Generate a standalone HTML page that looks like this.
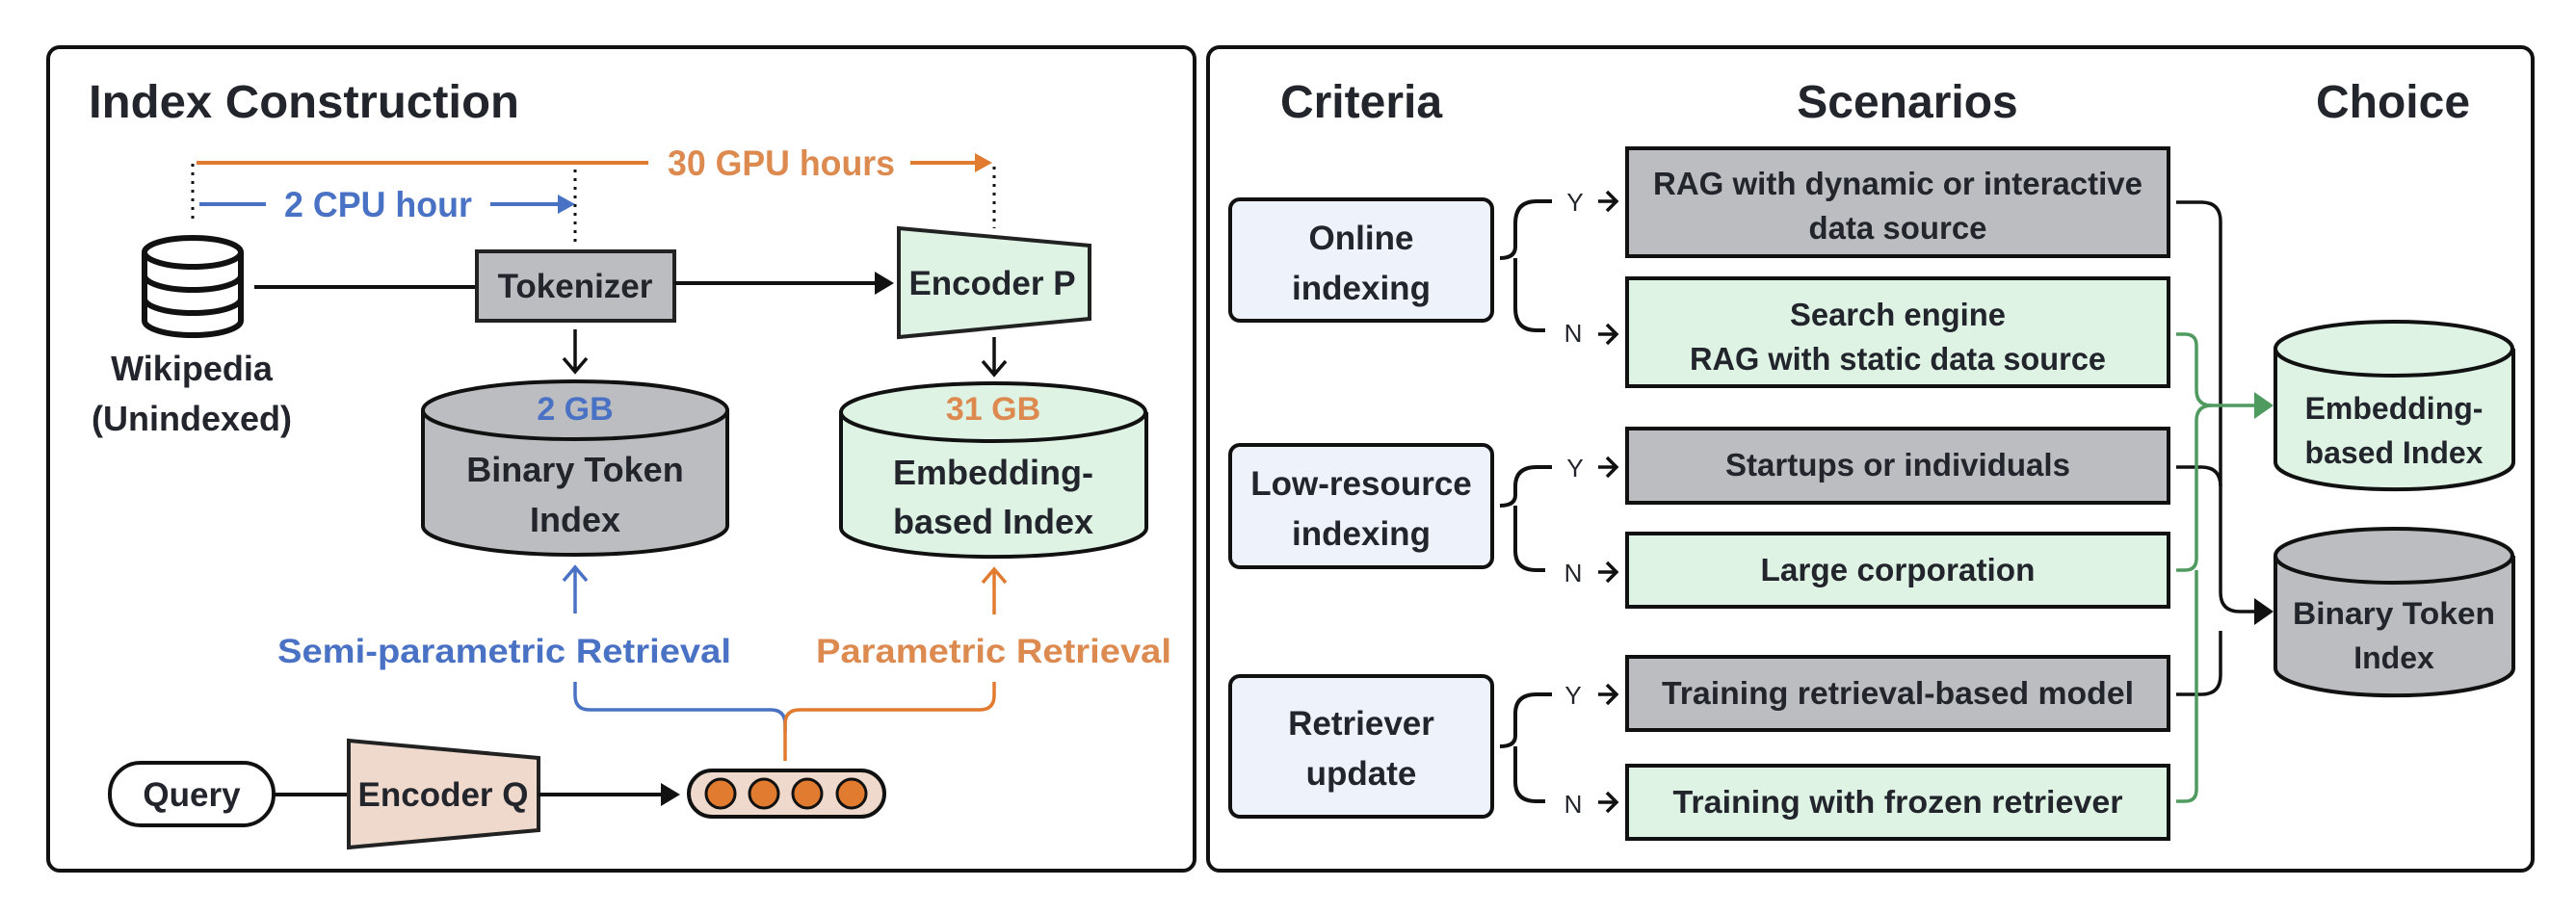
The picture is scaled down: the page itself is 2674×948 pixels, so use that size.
<!DOCTYPE html>
<html><head><meta charset="utf-8"><style>
html,body{margin:0;padding:0;background:#fff;}
svg{display:block}
text{font-family:"Liberation Sans",sans-serif;font-weight:bold;fill:#22252b}
</style></head><body>
<svg width="2674" height="948" viewBox="0 0 2674 948" xmlns="http://www.w3.org/2000/svg">
<!-- panels -->
<rect x="50" y="49" width="1190" height="855" rx="12" fill="#fff" stroke="#111" stroke-width="4"/>
<rect x="1254" y="49" width="1375" height="855" rx="12" fill="#fff" stroke="#111" stroke-width="4"/>

<!-- LEFT -->
<text x="92" y="122" font-size="48" textLength="447" lengthAdjust="spacingAndGlyphs">Index Construction</text>

<line x1="204" y1="169" x2="673" y2="169" stroke="#e07b30" stroke-width="4"/>
<text x="693" y="182" font-size="37" style="fill:#dc8a50" textLength="236" lengthAdjust="spacingAndGlyphs">30 GPU hours</text>
<line x1="945" y1="169" x2="1015" y2="169" stroke="#e07b30" stroke-width="4"/>
<path d="M1012,159 L1030,169 L1012,179 Z" fill="#e07b30"/>
<line x1="207" y1="212" x2="276" y2="212" stroke="#4a72c4" stroke-width="4"/>
<text x="295" y="225" font-size="37" style="fill:#4a72c4" textLength="195" lengthAdjust="spacingAndGlyphs">2 CPU hour</text>
<line x1="509" y1="212" x2="582" y2="212" stroke="#4a72c4" stroke-width="4"/>
<path d="M579,202 L597,212 L579,222 Z" fill="#4a72c4"/>
<line x1="200" y1="170" x2="200" y2="231" stroke="#111" stroke-width="3" stroke-dasharray="3,6"/>
<line x1="597" y1="176" x2="597" y2="252" stroke="#111" stroke-width="3" stroke-dasharray="3,6"/>
<line x1="1032" y1="173" x2="1032" y2="237" stroke="#111" stroke-width="3" stroke-dasharray="3,6"/>

<!-- database icon -->
<g fill="#fff" stroke="#111" stroke-width="6">
<path d="M150,262 L150,333 A50,15 0 0 0 250,333 L250,262"/>
<ellipse cx="200" cy="262" rx="50" ry="15"/>
<path d="M150,286 A50,15 0 0 0 250,286" fill="none"/>
<path d="M150,310 A50,15 0 0 0 250,310" fill="none"/>
</g>
<text x="199" y="395" font-size="36" text-anchor="middle">Wikipedia</text>
<text x="199" y="447" font-size="36" text-anchor="middle">(Unindexed)</text>

<line x1="264" y1="298" x2="495" y2="298" stroke="#111" stroke-width="4"/>
<rect x="495" y="261" width="205" height="72" fill="#bbbdc0" stroke="#222" stroke-width="4"/>
<text x="597" y="309" font-size="35" text-anchor="middle">Tokenizer</text>
<line x1="700" y1="294" x2="912" y2="294" stroke="#111" stroke-width="4"/>
<path d="M908,282 L928,294 L908,306 Z" fill="#111"/>
<path d="M933,237 L1131,255 L1131,331 L933,350 Z" fill="#dff3e4" stroke="#222" stroke-width="4"/>
<text x="1030" y="306" font-size="35" text-anchor="middle">Encoder P</text>

<path d="M597,342 L597,384 M585,372 L597,386 L609,372" stroke="#111" stroke-width="3.5" fill="none"/>
<path d="M1032,350 L1032,387 M1020,375 L1032,389 L1044,375" stroke="#111" stroke-width="3.5" fill="none"/>

<path d="M439,426 L439,546 A158,30 0 0 0 755,546 L755,426" fill="#bbbdc0" stroke="#111" stroke-width="4"/>
<ellipse cx="597" cy="426" rx="158" ry="30" fill="#bbbdc0" stroke="#111" stroke-width="4"/>
<text x="597" y="436" font-size="34" text-anchor="middle" style="fill:#4a72c4">2 GB</text>
<text x="597" y="500" font-size="36" text-anchor="middle">Binary Token</text>
<text x="597" y="552" font-size="36" text-anchor="middle">Index</text>

<path d="M873,428 L873,548 A158,30 0 0 0 1190,548 L1190,428" fill="#dff3e4" stroke="#111" stroke-width="4"/>
<ellipse cx="1031" cy="428" rx="158" ry="30" fill="#dff3e4" stroke="#111" stroke-width="4"/>
<text x="1031" y="436" font-size="34" text-anchor="middle" style="fill:#dc8a50">31 GB</text>
<text x="1031" y="503" font-size="36" text-anchor="middle">Embedding-</text>
<text x="1031" y="554" font-size="36" text-anchor="middle">based Index</text>

<path d="M597,637 L597,590 M585,603 L597,589 L609,603" stroke="#4a72c4" stroke-width="3.5" fill="none"/>
<path d="M1032,638 L1032,592 M1020,605 L1032,591 L1044,605" stroke="#e07b30" stroke-width="3.5" fill="none"/>
<text x="288" y="688" font-size="35" style="fill:#4a72c4" textLength="471" lengthAdjust="spacingAndGlyphs">Semi-parametric Retrieval</text>
<text x="847" y="688" font-size="35" style="fill:#dc8a50" textLength="369" lengthAdjust="spacingAndGlyphs">Parametric Retrieval</text>

<path d="M597,708 L597,722 Q597,737 612,737 L800,737 Q815,737 815,752 L815,760" stroke="#4a72c4" stroke-width="3.5" fill="none"/>
<path d="M1032,708 L1032,722 Q1032,737 1017,737 L830,737 Q815,737 815,752 L815,790" stroke="#e07b30" stroke-width="3.5" fill="none"/>

<rect x="114" y="792" width="170" height="65" rx="32" fill="#fff" stroke="#111" stroke-width="4"/>
<text x="199" y="837" font-size="35" text-anchor="middle">Query</text>
<line x1="284" y1="825" x2="362" y2="825" stroke="#111" stroke-width="4"/>
<path d="M362,769 L559,787 L559,862 L362,880 Z" fill="#efd9cc" stroke="#222" stroke-width="4"/>
<text x="460" y="837" font-size="35" text-anchor="middle">Encoder Q</text>
<line x1="559" y1="825" x2="690" y2="825" stroke="#111" stroke-width="4"/>
<path d="M686,813 L706,825 L686,837 Z" fill="#111"/>
<rect x="715" y="800" width="203" height="48" rx="24" fill="#efd9cc" stroke="#111" stroke-width="4"/>
<g fill="#e07b30" stroke="#111" stroke-width="3">
<circle cx="748" cy="824" r="15"/><circle cx="793" cy="824" r="15"/><circle cx="838" cy="824" r="15"/><circle cx="884" cy="824" r="15"/>
</g>

<!-- RIGHT -->
<text x="1413" y="122" font-size="48" text-anchor="middle">Criteria</text>
<text x="1980" y="122" font-size="48" text-anchor="middle">Scenarios</text>
<text x="2484" y="122" font-size="48" text-anchor="middle">Choice</text>

<g fill="#eef2fb" stroke="#111" stroke-width="4">
<rect x="1277" y="207" width="272" height="126" rx="10"/>
<rect x="1277" y="462" width="272" height="127" rx="10"/>
<rect x="1277" y="702" width="272" height="146" rx="10"/>
</g>
<g font-size="35" text-anchor="middle">
<text x="1413" y="259">Online</text><text x="1413" y="311">indexing</text>
<text x="1413" y="514">Low-resource</text><text x="1413" y="566">indexing</text>
<text x="1413" y="763">Retriever</text><text x="1413" y="815">update</text>
</g>

<g stroke="#111" stroke-width="4" fill="none">
<path d="M1611,209 L1595,209 Q1573,209 1573,232 L1573,256 Q1573,268 1557,268 M1573,268 Q1573,280 1573,290 L1573,320 Q1573,343 1595,343 L1604,343"/>
<path d="M1611,485 L1595,485 Q1573,485 1573,505 L1573,514 Q1573,525 1557,525 M1573,525 L1573,572 Q1573,592 1595,592 L1604,592"/>
<path d="M1611,721 L1595,721 Q1573,721 1573,741 L1573,764 Q1573,775 1557,775 M1573,775 L1573,812 Q1573,832 1595,832 L1604,832"/>
</g>
<g font-size="26" text-anchor="middle">
<text x="1635" y="219" style="font-weight:normal">Y</text><text x="1633" y="355" style="font-weight:normal">N</text>
<text x="1635" y="495" style="font-weight:normal">Y</text><text x="1633" y="604" style="font-weight:normal">N</text>
<text x="1633" y="731" style="font-weight:normal">Y</text><text x="1633" y="844" style="font-weight:normal">N</text>
</g>
<g stroke="#111" stroke-width="3.5" fill="none">
<path d="M1659,209 L1677,209 M1668,199 L1678,209 L1668,219"/>
<path d="M1659,347 L1677,347 M1668,337 L1678,347 L1668,357"/>
<path d="M1659,485 L1677,485 M1668,475 L1678,485 L1668,495"/>
<path d="M1659,594 L1677,594 M1668,584 L1678,594 L1668,604"/>
<path d="M1659,721 L1677,721 M1668,711 L1678,721 L1668,731"/>
<path d="M1659,833 L1677,833 M1668,823 L1678,833 L1668,843"/>
</g>

<g stroke="#111" stroke-width="4">
<rect x="1689" y="154" width="562" height="112" fill="#bbbdc0"/>
<rect x="1689" y="289" width="562" height="112" fill="#dff3e4"/>
<rect x="1689" y="445" width="562" height="77" fill="#bbbdc0"/>
<rect x="1689" y="554" width="562" height="76" fill="#dff3e4"/>
<rect x="1689" y="682" width="562" height="76" fill="#bbbdc0"/>
<rect x="1689" y="795" width="562" height="76" fill="#dff3e4"/>
</g>
<g font-size="33" text-anchor="middle">
<text x="1970" y="202" textLength="508" lengthAdjust="spacingAndGlyphs">RAG with dynamic or interactive</text>
<text x="1970" y="248" textLength="185" lengthAdjust="spacingAndGlyphs">data source</text>
<text x="1970" y="338" textLength="224" lengthAdjust="spacingAndGlyphs">Search engine</text>
<text x="1970" y="384" textLength="432" lengthAdjust="spacingAndGlyphs">RAG with static data source</text>
<text x="1970" y="494" textLength="358" lengthAdjust="spacingAndGlyphs">Startups or individuals</text>
<text x="1970" y="603" textLength="285" lengthAdjust="spacingAndGlyphs">Large corporation</text>
<text x="1970" y="731" textLength="490" lengthAdjust="spacingAndGlyphs">Training retrieval-based model</text>
<text x="1970" y="844" textLength="467" lengthAdjust="spacingAndGlyphs">Training with frozen retriever</text>
</g>

<g stroke="#111" stroke-width="3.5" fill="none">
<path d="M2259,210 L2285,210 Q2305,210 2305,230 L2305,615 Q2305,635 2325,635 L2345,635"/>
<path d="M2259,485 L2285,485 Q2305,485 2305,505"/>
<path d="M2259,721 L2285,721 Q2305,721 2305,701 L2305,655"/>
</g>
<path d="M2340,621 L2360,635 L2340,649 Z" fill="#111"/>
<g stroke="#4e9a5f" stroke-width="3.5" fill="none">
<path d="M2259,347 L2268,347 Q2280,347 2280,359 L2280,405 Q2280,421 2296,421 L2345,421"/>
<path d="M2259,592 L2268,592 Q2280,592 2280,580 L2280,437 Q2280,421 2296,421"/>
<path d="M2259,832 L2268,832 Q2280,832 2280,820 L2280,592"/>
</g>
<path d="M2340,407 L2360,421 L2340,435 Z" fill="#4e9a5f"/>

<path d="M2362,362 L2362,480 A123,28 0 0 0 2609,480 L2609,362" fill="#dff3e4" stroke="#111" stroke-width="4"/>
<ellipse cx="2485" cy="362" rx="123" ry="28" fill="#dff3e4" stroke="#111" stroke-width="4"/>
<text x="2485" y="435" font-size="32" text-anchor="middle">Embedding-</text>
<text x="2485" y="481" font-size="32" text-anchor="middle">based Index</text>

<path d="M2362,577 L2362,694 A123,28 0 0 0 2609,694 L2609,577" fill="#bbbdc0" stroke="#111" stroke-width="4"/>
<ellipse cx="2485" cy="577" rx="123" ry="28" fill="#bbbdc0" stroke="#111" stroke-width="4"/>
<text x="2485" y="648" font-size="32" text-anchor="middle" textLength="210" lengthAdjust="spacingAndGlyphs">Binary Token</text>
<text x="2485" y="694" font-size="32" text-anchor="middle">Index</text>
</svg>
</body></html>
